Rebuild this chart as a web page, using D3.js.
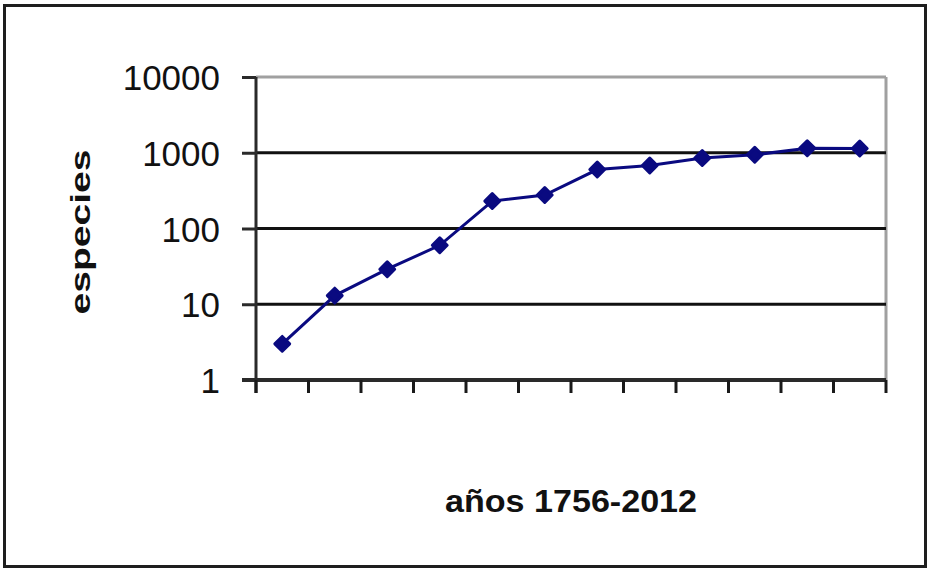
<!DOCTYPE html>
<html>
<head>
<meta charset="utf-8">
<script src="https://cdn.jsdelivr.net/npm/d3@7"></script>
<style>
  html, body { margin: 0; padding: 0; background: #fff; }
  svg { display: block; }
</style>
</head>
<body>
<svg id="chart" width="931" height="572"></svg>
<script>
// Data
const categories = ["1", "2", "3", "4", "5", "6", "7", "8", "9", "10", "11", "12"];
const speciesValues = [3, 13, 29, 60, 230, 277, 600, 680, 850, 940, 1150, 1140];
const yTickValues = [1, 10, 100, 1000, 10000];
const yTickLabels = ["1", "10", "100", "1000", "10000"];
const xAxisTitle = "años 1756-2012";
const yAxisTitle = "especies";

const svg = d3.select("#chart");
const plot = { left: 256, right: 886, top: 77, bottom: 380 };

// Outer frame
svg.append("rect")
  .attr("x", 4.5).attr("y", 5.5)
  .attr("width", 921).attr("height", 561)
  .attr("fill", "#fff")
  .attr("stroke", "#1e1e1e")
  .attr("stroke-width", 3);

const x = d3.scalePoint()
  .domain(categories)
  .range([plot.left, plot.right])
  .padding(0.5);

const y = d3.scaleLog()
  .domain([1, 10000])
  .range([plot.bottom, plot.top]);

// Plot area top & right border (gray)
svg.append("line")
  .attr("x1", plot.left).attr("x2", plot.right)
  .attr("y1", y(10000)).attr("y2", y(10000))
  .attr("stroke", "#a0a0a0").attr("stroke-width", 3);
svg.append("line")
  .attr("x1", plot.right).attr("x2", plot.right)
  .attr("y1", y(10000)).attr("y2", y(1))
  .attr("stroke", "#a0a0a0").attr("stroke-width", 3);

// Gridlines (1000, 100, 10)
svg.append("g")
  .selectAll("line")
  .data(yTickValues.filter(v => v > 1 && v < 10000))
  .join("line")
  .attr("x1", plot.left).attr("x2", plot.right)
  .attr("y1", d => y(d)).attr("y2", d => y(d))
  .attr("stroke", "#111").attr("stroke-width", 3);

// Y axis
const yAxis = d3.axisLeft(y)
  .tickValues(yTickValues)
  .tickFormat((d, i) => yTickLabels[i])
  .tickSize(14)
  .tickPadding(22);
const gy = svg.append("g")
  .attr("transform", `translate(${plot.left},0)`)
  .call(yAxis);
gy.select(".domain").remove();
gy.selectAll(".tick line").attr("stroke", "#2a2a2a").attr("stroke-width", 3);
gy.selectAll(".tick text")
  .attr("fill", "#111")
  .style("font-family", "'Liberation Sans', Arial, sans-serif")
  .style("font-size", "35px")
  .attr("dy", "0.36em");
svg.append("line")
  .attr("x1", plot.left).attr("x2", plot.left)
  .attr("y1", y(10000)).attr("y2", plot.bottom + 13)
  .attr("stroke", "#2a2a2a").attr("stroke-width", 3);

// X axis line and boundary ticks
const step = x.step();
const boundaries = d3.range(categories.length + 1).map(i => plot.left + i * step);
svg.append("line")
  .attr("x1", plot.left - 14).attr("x2", plot.right)
  .attr("y1", plot.bottom).attr("y2", plot.bottom)
  .attr("stroke", "#2a2a2a").attr("stroke-width", 4);
svg.append("g")
  .selectAll("line")
  .data(boundaries)
  .join("line")
  .attr("x1", d => d).attr("x2", d => d)
  .attr("y1", plot.bottom).attr("y2", plot.bottom + 13)
  .attr("stroke", "#1a1a1a").attr("stroke-width", 3);

// Series line
const line = d3.line()
  .x((d, i) => x(categories[i]))
  .y(d => y(d));
svg.append("path")
  .datum(speciesValues)
  .attr("fill", "none")
  .attr("stroke", "#0a0a80")
  .attr("stroke-width", 3)
  .attr("d", line);

// Markers (diamonds)
svg.append("g")
  .selectAll("path")
  .data(speciesValues)
  .join("path")
  .attr("transform", (d, i) => `translate(${x(categories[i])},${y(d)}) rotate(45)`)
  .attr("d", d3.symbol(d3.symbolSquare).size(110))
  .attr("fill", "#0a0a80")
  .attr("stroke", "#0a0a80")
  .attr("stroke-width", 3)
  .attr("stroke-linejoin", "round");

// Axis titles
svg.append("text")
  .attr("x", 571).attr("y", 512)
  .attr("text-anchor", "middle")
  .attr("textLength", 252)
  .attr("lengthAdjust", "spacingAndGlyphs")
  .style("font-family", "'Liberation Sans', Arial, sans-serif")
  .style("font-weight", "bold")
  .style("font-size", "32px")
  .attr("fill", "#111")
  .text(xAxisTitle);

svg.append("text")
  .attr("transform", "translate(90,232) rotate(-90)")
  .attr("text-anchor", "middle")
  .attr("textLength", 165)
  .attr("lengthAdjust", "spacingAndGlyphs")
  .style("font-family", "'Liberation Sans', Arial, sans-serif")
  .style("font-weight", "bold")
  .style("font-size", "27px")
  .attr("fill", "#111")
  .text(yAxisTitle);
</script>
</body>
</html>
